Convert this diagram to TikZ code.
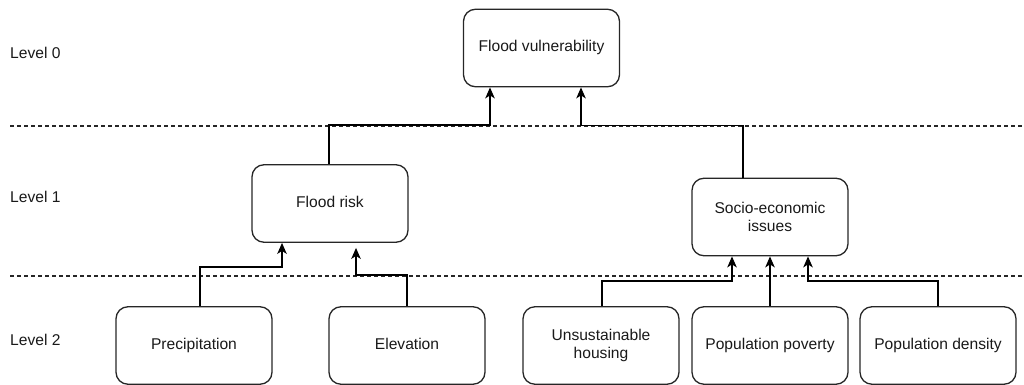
\documentclass[tikz,border=0pt]{standalone}
\usepackage{fontspec}
\setmainfont{Liberation Sans}
\usetikzlibrary{arrows.meta}
\begin{document}
\begin{tikzpicture}[x=1pt,y=-1pt,
  box/.style={draw=black!85, line width=1.3pt, rounded corners=12pt, minimum width=156pt, minimum height=77.5pt, inner sep=0pt, align=center, text=black!90, font=\fontsize{15.6}{18.5}\selectfont},
  oneline/.style={text height=11.3pt, text depth=3.3pt},
  lvl/.style={anchor=west, inner sep=0pt, text=black!90, font=\fontsize{15.6}{18.5}\selectfont},
  sep/.style={line width=1.3pt, draw=black!85, dash pattern=on 4pt off 3pt},
  arr/.style={line width=1.4pt, draw=black, -{Stealth[length=11pt,width=9.5pt,inset=3pt]}}]
\useasboundingbox (0,0) rectangle (1024,385);
% level separators
\coordinate (s1a) at (10,126); \coordinate (s1b) at (1024,126);
\coordinate (s2a) at (10,276); \coordinate (s2b) at (1024,276);
\draw[sep] (s1a) -- (s1b);
\draw[sep] (s2a) -- (s2b);
% level labels
\node[lvl] (l0) at (10,53) {Level 0};
\node[lvl] (l1) at (10,197) {Level 1};
\node[lvl] (l2) at (10,340) {Level 2};
% nodes
\node[box,oneline] (fv) at (541.5,48) {Flood vulnerability};
\node[box,oneline] (fr) at (330,203.5) {Flood risk};
\node[box] (se) at (770,217) {Socio-economic\\issues};
\node[box,oneline] (prec) at (194,345.5) {Precipitation};
\node[box,oneline] (elev) at (407,345.5) {Elevation};
\node[box] (unsus) at (601,345.5) {Unsustainable\\housing};
\node[box,oneline] (pov) at (770,345.5) {Population poverty};
\node[box,oneline] (dens) at (938,345.5) {Population density};
% connectors
\draw[arr] ([xshift=6pt]prec.north) -- ++(0,-39) -| ([xshift=-48pt]fr.south);
\draw[arr] (elev.north) -- ++(0,-31) -| ([xshift=26pt,yshift=-5pt]fr.south);
\draw[arr] ([xshift=1pt]unsus.north) -- ++(0,-25) -| ([xshift=-38pt]se.south);
\draw[arr] (pov.north) -- (se.south);
\draw[arr] (dens.north) -- ++(0,-25) -| ([xshift=38pt]se.south);
\draw[arr] ([xshift=-1pt]fr.north) -- ++(0,-39) -| ([xshift=-51.5pt]fv.south);
\draw[arr] ([xshift=-27pt]se.north) -- ++(0,-52) -| ([xshift=39.5pt]fv.south);
\end{tikzpicture}
\end{document}
